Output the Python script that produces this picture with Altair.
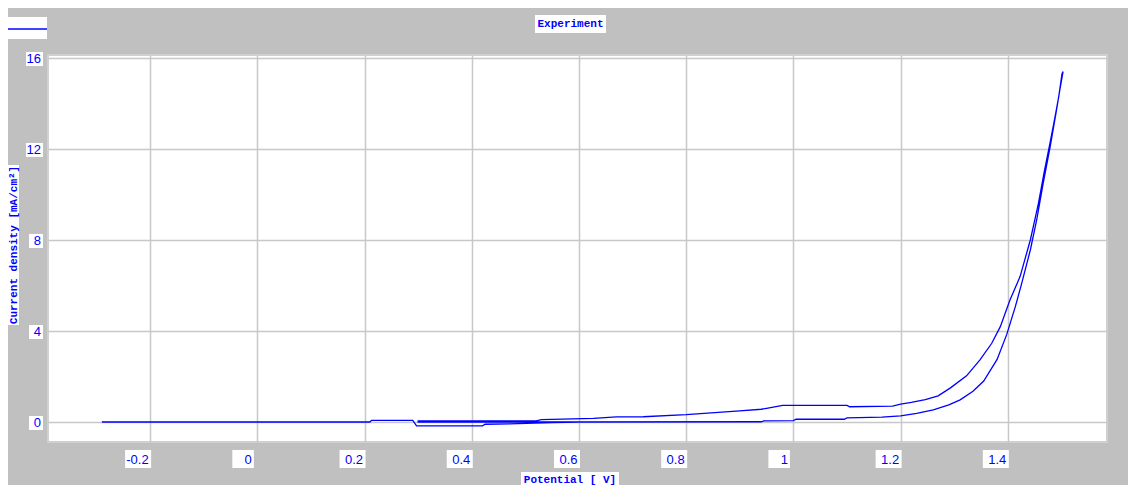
import altair as alt
import pandas as pd

# ---- data ----
potential = [
    -0.29, 0.21, 0.213, 0.29, 0.297, 0.42, 0.425, 0.47, 0.55, 0.60,
    0.94, 0.945, 1.0, 1.005, 1.095, 1.10, 1.165, 1.20, 1.23, 1.261,
    1.29, 1.311, 1.335, 1.355, 1.38, 1.398, 1.414, 1.426, 1.442, 1.454,
    1.466, 1.479, 1.49, 1.497, 1.503,
    1.501, 1.495, 1.488, 1.479, 1.468, 1.457, 1.442, 1.423, 1.404, 1.386,
    1.37, 1.348, 1.323, 1.293, 1.27, 1.246, 1.22, 1.20, 1.185, 1.105,
    1.10, 0.98, 0.95, 0.94, 0.90, 0.86, 0.80, 0.72, 0.67, 0.627,
    0.53, 0.52, 0.30, 0.30, 0.60,
]
current = [
    0.0, 0.0, 0.07, 0.07, -0.17, -0.17, -0.10, -0.08, -0.03, 0.0,
    0.01, 0.05, 0.06, 0.12, 0.12, 0.18, 0.21, 0.27, 0.38, 0.53,
    0.75, 0.97, 1.35, 1.8, 2.75, 3.85, 5.07, 6.1, 7.56, 8.9,
    10.5, 12.1, 13.6, 14.6, 15.4,
    15.3, 14.3, 13.4, 12.3, 11.0, 9.6, 8.0, 6.4, 5.36, 4.19,
    3.46, 2.73, 2.03, 1.5, 1.15, 0.98, 0.86, 0.78, 0.70, 0.67,
    0.73, 0.73, 0.6, 0.56, 0.49, 0.42, 0.32, 0.23, 0.22, 0.16,
    0.10, 0.05, 0.05, 0.0, 0.0,
]
x_ticks = [-0.2, 0, 0.2, 0.4, 0.6, 0.8, 1, 1.2, 1.4]
x_tick_labels = ["-0.2", "0", "0.2", "0.4", "0.6", "0.8", "1", "1.2", "1.4"]
y_ticks = [0, 4, 8, 12, 16]
y_tick_labels = ["0", "4", "8", "12", "16"]
title_text = "Experiment"
x_title = "Potential [ V]"
y_title = "Current density [mA/cm²]"

# ---- styling ----
BLUE = "#0000ff"
GRID = "#c8c8c8"
BG = "#c0c0c0"
W, H = 1059, 387
XDOM = [-0.3905, 1.585]
YDOM = [-0.88, 16.13]
MONO = "Liberation Mono"
SANS = "Liberation Sans"

xs = alt.Scale(domain=XDOM, nice=False, zero=False)
ys = alt.Scale(domain=YDOM, nice=False, zero=False)

curve = pd.DataFrame({"V": potential, "J": current, "i": range(len(potential))})

line = alt.Chart(curve).mark_line(color=BLUE, strokeWidth=1.3, clip=True).encode(
    x=alt.X("V:Q", scale=xs, axis=alt.Axis(values=x_ticks, grid=True, gridColor=GRID,
            gridWidth=1.5, labels=False, ticks=False, domain=False, title=None)),
    y=alt.Y("J:Q", scale=ys, axis=alt.Axis(values=y_ticks, grid=True, gridColor=GRID,
            gridWidth=1.5, labels=False, ticks=False, domain=False, title=None)),
    order="i:Q",
)

# x tick labels with white boxes
xt = pd.DataFrame({"v": x_ticks, "lab": x_tick_labels})
xt["n"] = xt["lab"].str.len()
xt["box"] = xt["n"].map(lambda n: "M-25,-9H-3.5V9H-25Z" if n == 1 else "M-25,-9H1V9H-25Z")

x_boxes = alt.Chart(xt).mark_point(filled=True, color="white", opacity=1, size=4).encode(
    x=alt.X("v:Q", scale=xs), y=alt.value(H + 17),
    shape=alt.Shape("box:N", scale=None),
)
x_lab_multi = alt.Chart(xt).transform_filter("datum.n > 1").mark_text(
    align="right", baseline="middle", color=BLUE, font=SANS, fontSize=13, dx=-1.5, dy=1
).encode(x=alt.X("v:Q", scale=xs), y=alt.value(H + 17), text="lab:N")
x_lab_single = alt.Chart(xt).transform_filter("datum.n == 1").mark_text(
    align="right", baseline="middle", color=BLUE, font=SANS, fontSize=13, dx=-5.5, dy=1
).encode(x=alt.X("v:Q", scale=xs), y=alt.value(H + 17), text="lab:N")

# y tick labels with white boxes
yt = pd.DataFrame({"v": y_ticks, "lab": y_tick_labels})
yt["box"] = yt["lab"].str.len().map(lambda n: "M-19,-6H-5V8H-19Z" if n == 1 else "M-22,-6H-5V8H-22Z")
y_boxes = alt.Chart(yt).mark_point(filled=True, color="white", opacity=1, size=4).encode(
    x=alt.value(0), y=alt.Y("v:Q", scale=ys),
    shape=alt.Shape("box:N", scale=None),
)
y_labs = alt.Chart(yt).mark_text(
    align="right", baseline="middle", color=BLUE, font=SANS, fontSize=13, dy=1.5
).encode(x=alt.value(-7), y=alt.Y("v:Q", scale=ys), text="lab:N")

one = pd.DataFrame({"k": [0]})

def box(x1, x2, y1, y2):
    return alt.Chart(one).mark_rect(color="white").encode(
        x=alt.value(x1), x2=alt.value(x2), y=alt.value(y1), y2=alt.value(y2))

def label(txt, x, y, angle=0):
    return alt.Chart(one).mark_text(
        color=BLUE, font=MONO, fontWeight="bold", fontSize=11, align="center",
        baseline="middle", angle=angle
    ).encode(x=alt.value(x), y=alt.value(y), text=alt.value(txt))

title_box = box(487, 558, -40, -22)
title_lab = label(title_text, 522.5, -31)
xt_box = box(473, 571, 417, 432)
xt_lab = label(x_title, 522, 425)
yt_box = box(-40, -29, 110, 270)
yt_lab = label(y_title, -34.3, 190, angle=270)

legend_box = box(-40, -1, -38, -16)
legend_line = alt.Chart(one).mark_rule(color=BLUE, strokeWidth=1.5).encode(
    x=alt.value(-40), x2=alt.value(-1), y=alt.value(-26))

chart = alt.layer(
    x_boxes, y_boxes, title_box, xt_box, yt_box, legend_box,
    line, x_lab_multi, x_lab_single, y_labs, title_lab, xt_lab, yt_lab, legend_line,
).properties(
    width=W, height=H,
    background=BG,
    padding={"left": 40, "top": 47, "right": 21, "bottom": 43},
    autosize=alt.AutoSizeParams(type="none"),
).configure_view(
    fill="white", stroke="#d0d0d0", strokeWidth=2,
)

chart.save("out.html", embed_options={"renderer": "svg", "actions": False})
